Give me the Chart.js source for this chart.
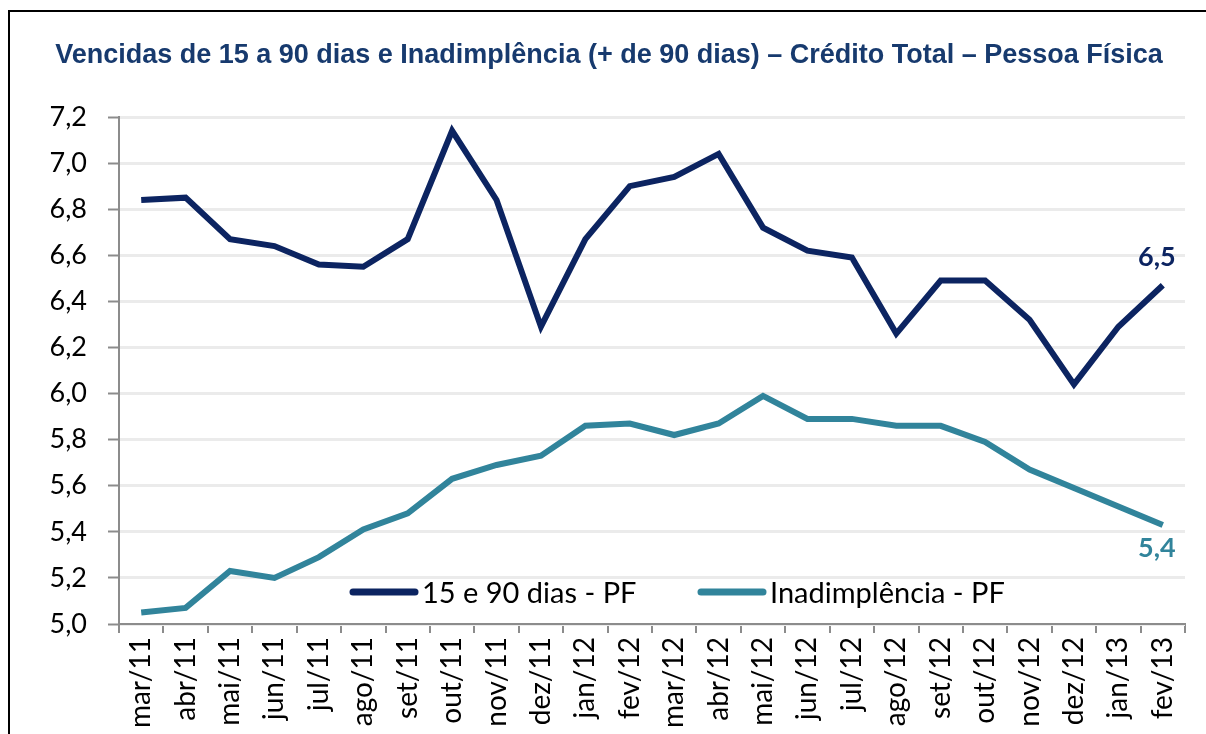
<!DOCTYPE html>
<html>
<head>
<meta charset="utf-8">
<script src="https://cdn.jsdelivr.net/npm/chart.js@4.4.0/dist/chart.umd.min.js"></script>
<style>
    body { margin: 0; background: #fff; overflow: hidden; }
    #frame { position: absolute; left: 8px; top: 10px; width: 1300px; height: 800px; border: 2px solid #000; }
    #wrap { position: absolute; left: 0; top: 0; width: 1206px; height: 734px; }
</style>
</head>
<body>
<div id="frame"></div>
<div id="wrap"><canvas id="grafico" width="1206" height="734"></canvas></div>
<script>
const titulo = "Vencidas de 15 a 90 dias e Inadimplência (+ de 90 dias) – Crédito Total – Pessoa Física";
const meses = ["mar/11", "abr/11", "mai/11", "jun/11", "jul/11", "ago/11", "set/11", "out/11",
    "nov/11", "dez/11", "jan/12", "fev/12", "mar/12", "abr/12", "mai/12", "jun/12",
    "jul/12", "ago/12", "set/12", "out/12", "nov/12", "dez/12", "jan/13", "fev/13"];
const vencidas = [6.84, 6.85, 6.67, 6.64, 6.56, 6.55, 6.67, 7.14, 6.84, 6.29, 6.67, 6.90,
    6.94, 7.04, 6.72, 6.62, 6.59, 6.26, 6.49, 6.49, 6.32, 6.04, 6.29, 6.47];
const inadimplencia = [5.05, 5.07, 5.23, 5.20, 5.29, 5.41, 5.48, 5.63, 5.69, 5.73, 5.86, 5.87,
    5.82, 5.87, 5.99, 5.89, 5.89, 5.86, 5.86, 5.79, 5.67, 5.59, 5.51, 5.43];
const rotulosFinais = ["6,5", "5,4"];

const corEscura = "#0c2461";
const corTeal = "#31849b";

// titulo, legenda dentro da area do grafico e rotulos do ultimo ponto
const extras = {
    id: "extras",
    afterDatasetsDraw(chart) {
        const ctx = chart.ctx;
        const area = chart.chartArea;
        ctx.save();
        // titulo
        ctx.font = "bold 27px 'Liberation Sans', Arial";
        ctx.fillStyle = "#173a6e";
        ctx.textAlign = "center";
        ctx.textBaseline = "middle";
        ctx.fillText(titulo, 609, 56);
        // rotulos finais
        ctx.font = "bold 27px Lato";
        chart.data.datasets.forEach((ds, i) => {
            const meta = chart.getDatasetMeta(i);
            const p = meta.data[meta.data.length - 1];
            ctx.fillStyle = ds.borderColor;
            ctx.textBaseline = i === 0 ? "bottom" : "top";
            ctx.fillText(rotulosFinais[i], p.x - 6, i === 0 ? p.y - 14 : p.y + 10);
        });
        // legenda
        const y = area.bottom - 32;
        const itens = [[353, "15 e 90 dias - PF"], [701, "Inadimplência - PF"]];
        ctx.font = "29px Lato";
        ctx.textAlign = "left";
        ctx.textBaseline = "middle";
        itens.forEach((it, i) => {
            const ds = chart.data.datasets[i];
            ctx.strokeStyle = ds.borderColor;
            ctx.lineWidth = 7;
            ctx.lineCap = "round";
            ctx.beginPath();
            ctx.moveTo(it[0], y);
            ctx.lineTo(it[0] + 62, y);
            ctx.stroke();
            ctx.fillStyle = "#000";
            ctx.fillText(it[1], it[0] + 69, y + 2);
        });
        ctx.restore();
    }
};

new Chart(document.getElementById("grafico"), {
    type: "line",
    data: {
        labels: meses,
        datasets: [{
            label: "15 e 90 dias - PF",
            data: vencidas,
            borderColor: corEscura,
            borderWidth: 6,
            pointRadius: 0,
            tension: 0
        }, {
            label: "Inadimplência - PF",
            data: inadimplencia,
            borderColor: corTeal,
            borderWidth: 6,
            pointRadius: 0,
            tension: 0
        }]
    },
    options: {
        responsive: false,
        animation: false,
        layout: {
            padding: { left: 0, right: 21, top: 117, bottom: 0 }
        },
        plugins: {
            legend: { display: false },
            tooltip: { enabled: false },
            title: { display: false }
        },
        scales: {
            x: {
                offset: true,
                grid: {
                    offset: true,
                    drawOnChartArea: false,
                    color: "#8c8c8c",
                    lineWidth: 2,
                    tickLength: 9
                },
                border: { color: "#8c8c8c", width: 2 },
                ticks: {
                    minRotation: 90,
                    maxRotation: 90,
                    color: "#000",
                    padding: 4,
                    font: { family: "Lato", size: 28 }
                },
                afterFit: s => { s.height = 110; }
            },
            y: {
                min: 5.0,
                max: 7.2,
                grid: {
                    color: "#ebebeb",
                    lineWidth: 3,
                    tickColor: "#8c8c8c",
                    tickWidth: 2,
                    tickLength: 11
                },
                border: { color: "#8c8c8c", width: 2 },
                ticks: {
                    stepSize: 0.2,
                    color: "#000",
                    padding: 21,
                    font: { family: "Lato", size: 27 },
                    callback: v => v.toFixed(1).replace(".", ",")
                },
                afterFit: s => { s.width = 119; }
            }
        }
    },
    plugins: [extras]
});
</script>
</body>
</html>
